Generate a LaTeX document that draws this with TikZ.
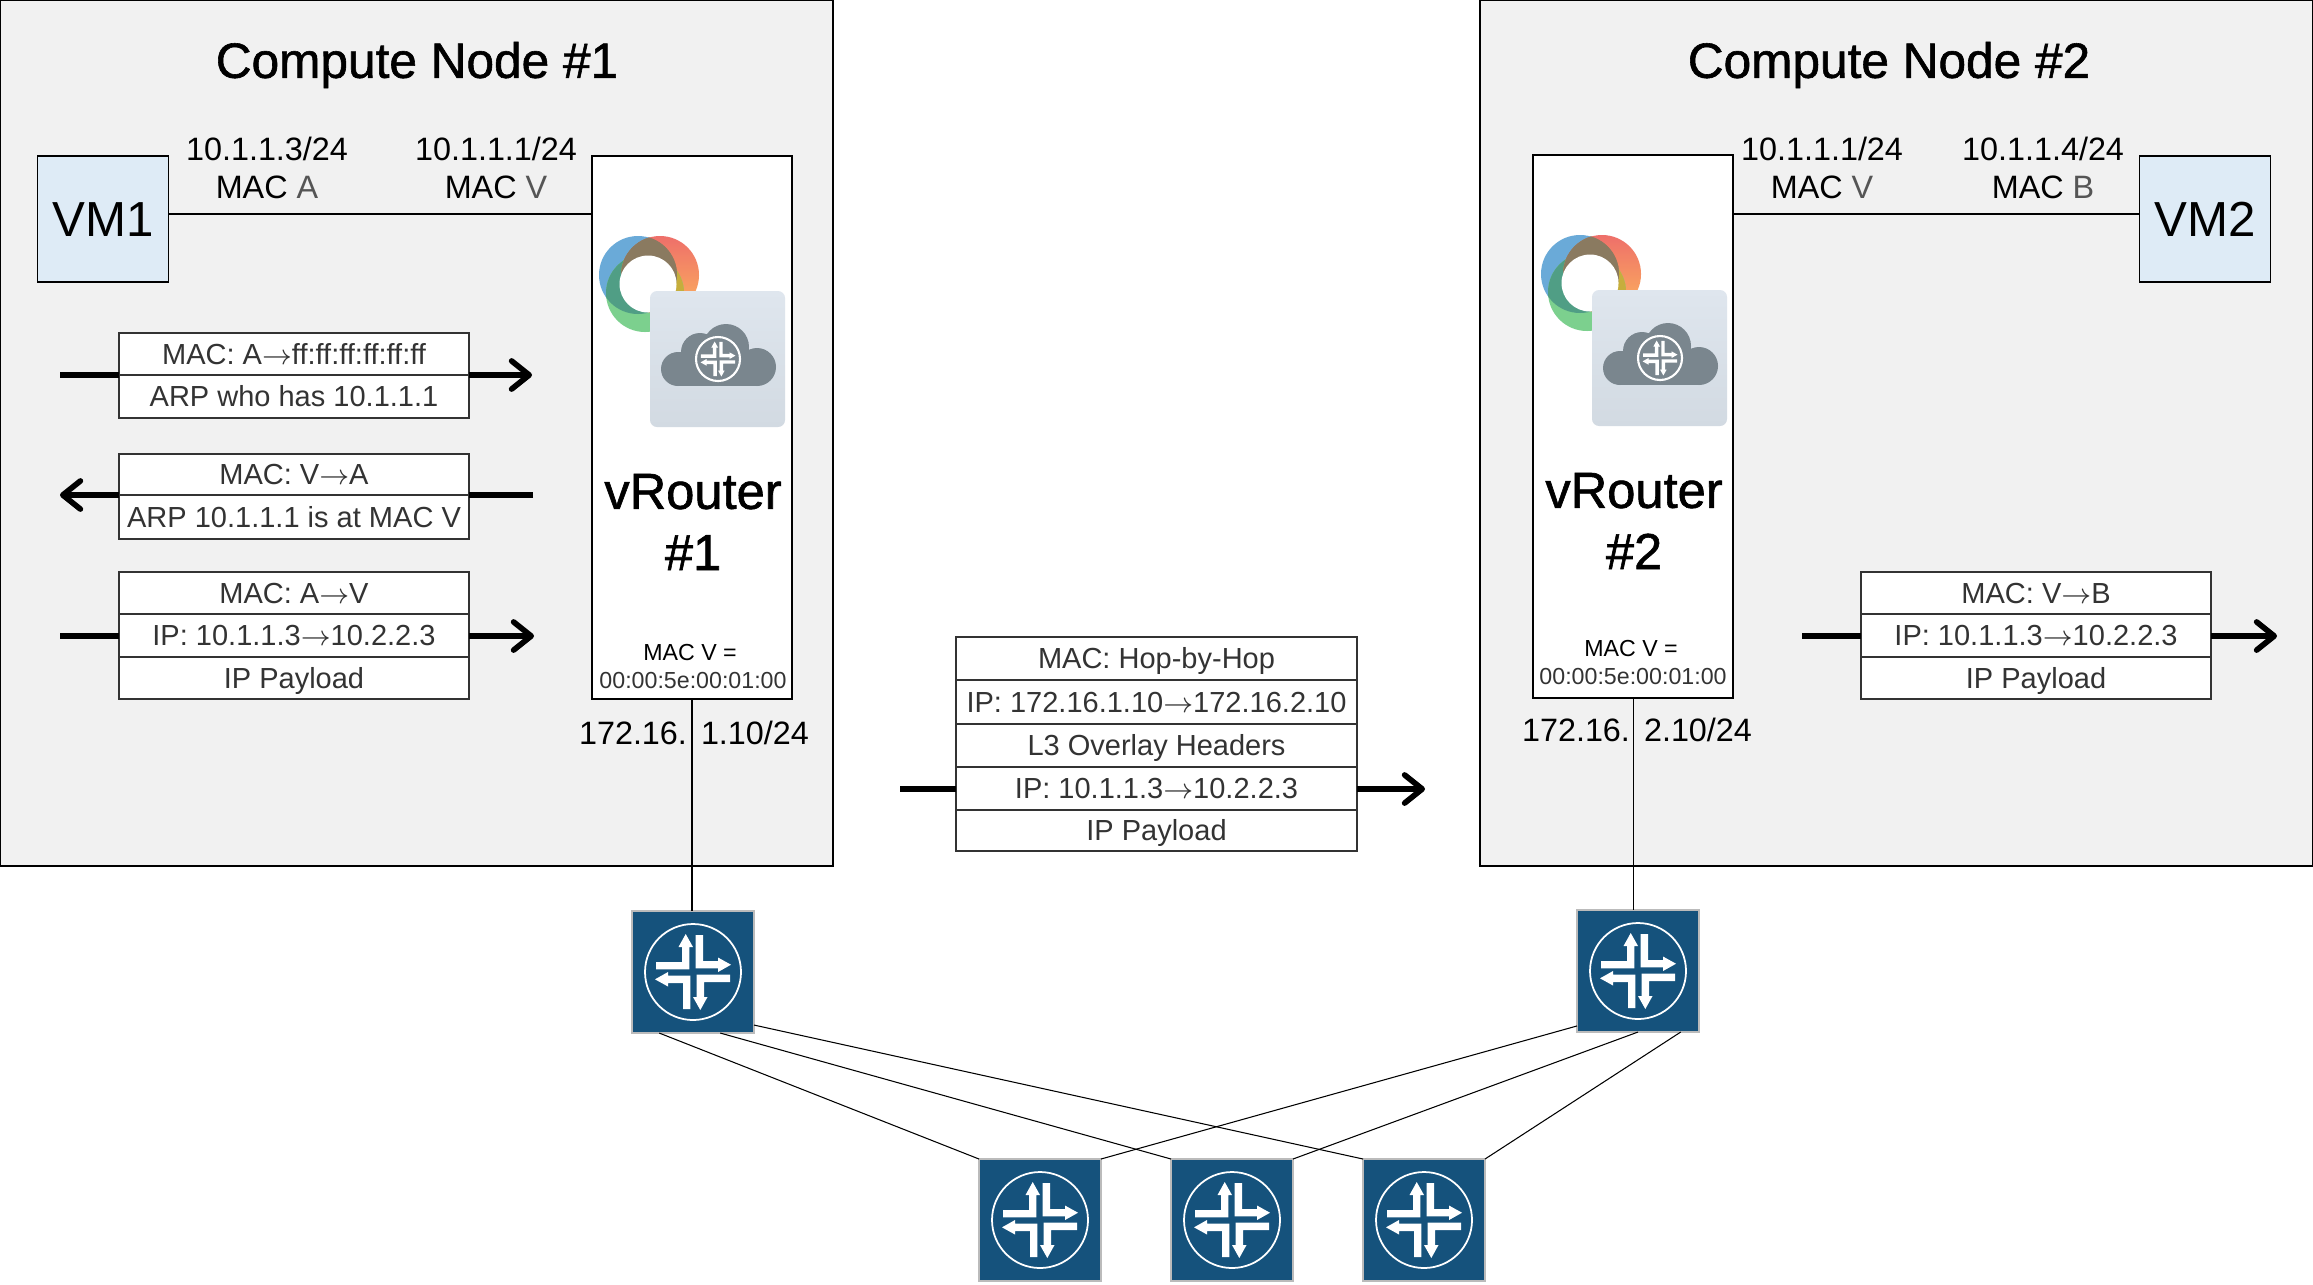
\documentclass[tikz,border=0pt]{standalone}
\usepackage{fontspec}
\setmainfont{Liberation Sans}
\usetikzlibrary{positioning,calc,arrows.meta}
\definecolor{panelgray}{HTML}{F1F1F1}
\definecolor{vmblue}{HTML}{DEEBF6}
\definecolor{routerblue}{HTML}{15527C}
\definecolor{routeredge}{HTML}{BBBBBB}
\definecolor{textgray}{HTML}{333333}
\definecolor{softgray}{HTML}{555555}
\definecolor{cloudgray}{HTML}{7A868E}
\definecolor{ringblue}{HTML}{6AAAD8}
\definecolor{ringred}{HTML}{EE6F6A}
\definecolor{ringorange}{HTML}{FDB45C}
\definecolor{ringgreen}{HTML}{7CD08E}
\definecolor{ringbr}{HTML}{8A7A60}
\definecolor{ringbg}{HTML}{509E85}
\definecolor{ringrg}{HTML}{C6AE3C}
\definecolor{tilelo}{HTML}{D2DAE2}
\definecolor{tilehi}{HTML}{DFE6EE}
\newcommand{\pxu}{*0.01cm}
\tikzset{
	x=0.01cm, y=-0.01cm,
	every node/.append style={outer sep=0pt},
	hostbox/.style={draw=black, line width=0.45pt, fill=panelgray, inner sep=0, minimum width=833\pxu, minimum height=866\pxu},
	vmbox/.style={draw=black, line width=0.45pt, fill=vmblue, inner sep=0, text height=10pt, text depth=0pt, minimum width=131\pxu, minimum height=126\pxu, font=\fontsize{14}{17}\selectfont},
	vrbox/.style={draw=black, line width=0.6pt, fill=white, inner sep=0, minimum width=200\pxu, minimum height=543\pxu},
	hdr/.style={draw=textgray, line width=0.5pt, fill=white, inner sep=0, text=textgray, text height=5.7pt, text depth=0pt, minimum width=350\pxu, font=\fontsize{8.25}{10}\selectfont},
	lbl/.style={inner sep=0, font=\fontsize{9.2}{11}\selectfont},
	big/.style={inner sep=0, align=center, font=\fontsize{14.4}{17.4}\selectfont\addfontfeature{FakeBold=1.2}},
	ttl/.style={inner sep=0, font=\fontsize{14.1}{17}\selectfont\addfontfeature{FakeBold=1.2}},
	tiny/.style={inner sep=0, font=\fontsize{6.6}{8}\selectfont},
	wire/.style={draw=black, line width=0.3pt},
	flow/.style={line width=1.6pt, draw=black},
	flowend/.style={flow, -{Straight Barb[length=5pt,width=8pt,round]}},
	router/.style={draw=routeredge, line width=0.8pt, fill=routerblue, inner sep=0, minimum size=122\pxu},
	crossmark/.pic={
		\foreach \a in {0,90,180,270}
			\fill[white, rotate=\a] (-37,-10) -- (-11,-10) -- (-11,-25) -- (-14.5,-25) -- (-7.3,-38) -- (0,-25) -- (-3.7,-25) -- (-3.7,-2.7) -- (-37,-2.7) -- cycle;
	},
	routerpic/.pic={
		\draw[white, line width=0.5pt] (0,0) circle (48);
		\pic {crossmark};
	},
	vrlogo/.pic={
		% three discs, their overlaps, then the hole
		\fill[ringblue] (46,119) circle (39);
		\shade[top color=ringred, bottom color=ringorange] (68,119) circle (39);
		\fill[ringgreen] (53,137) circle (39);
		\begin{scope}
			\clip (46,119) circle (39);
			\fill[ringbr] (68,119) circle (39);
			\fill[ringbg] (53,137) circle (39);
		\end{scope}
		\begin{scope}
			\clip (68,119) circle (39);
			\fill[ringrg] (53,137) circle (39);
			\clip (46,119) circle (39);
			\fill[ringbr] (68,119) circle (39);
		\end{scope}
		\fill[white] (56,128) circle (28.5);
		\shade[bottom color=tilelo, top color=tilehi, rounded corners=2pt] (58,135) rectangle (193,271);
		\fill[cloudgray] (86,213) circle (17) (165,211) circle (19) (108,196) circle (19) (134,191) circle (23);
		\fill[cloudgray] (86,196) rectangle (165,230);
		\draw[white, line width=0.6pt] (126,203) circle (22);
		\pic[scale=0.46] at (126,203) {crossmark};
	},
}
\begin{document}
\begin{tikzpicture}
	\useasboundingbox (0,0) rectangle (2313,1284);

	\node[hostbox, anchor=north west] (host1) at (0,0) {};
	\node[hostbox, anchor=north east] (host2) at (2313,0) {};
	\node[ttl] (title1) at (417,65) {Compute Node \#1};
	\node[ttl] (title2) at (1889,65) {Compute Node \#2};

	\node[vmbox] (vm1) at (103,219) {VM1};
	\node[vmbox] (vm2) at (2205,219) {VM2};
	\node[vrbox, anchor=north west] (vr1) at (592,156) {};
	\node[vrbox, anchor=north west] (vr2) at (1533,155) {};
	\pic at (vr1.north west) {vrlogo};
	\pic at ([xshift=0.01cm]vr2.north west) {vrlogo};
	\node[big] (vrname1) at (693,522) {vRouter\\\#1};
	\node[big] (vrname2) at (1634,521) {vRouter\\\#2};
	\node[tiny] (vrmac1) at (690,652) {MAC V =};
	\node[tiny, text=textgray] (vraddr1) at (693,680) {00:00:5e:00:01:00};
	\node[tiny] (vrmac2) at (1631,648) {MAC V =};
	\node[tiny, text=textgray] (vraddr2) at (1633,676) {00:00:5e:00:01:00};

	\node[lbl] (ipa) at (267,149) {10.1.1.3/24};
	\node[lbl] (maca) at (267,187) {MAC \textcolor{softgray}{A}};
	\node[lbl] (ipv1) at (496,149) {10.1.1.1/24};
	\node[lbl] (macv1) at (496,187) {MAC \textcolor{softgray}{V}};
	\node[lbl] (ipv2) at (1822,149) {10.1.1.1/24};
	\node[lbl] (macv2) at (1822,187) {MAC \textcolor{softgray}{V}};
	\node[lbl] (ipb) at (2043,149) {10.1.1.4/24};
	\node[lbl] (macb) at (2043,187) {MAC \textcolor{softgray}{B}};
	\node[lbl] (ipu1) at (694,733) {172.16.\hspace{4pt}1.10/24};
	\node[lbl] (ipu2) at (1637,730) {172.16.\hspace{4pt}2.10/24};

	\draw[wire] (vm1.east |- 0,214) -- (vr1.west |- 0,214);
	\draw[wire] (vr2.east |- 0,214) -- (vm2.west |- 0,214);

	% arp request
	\node[hdr, minimum height=42\pxu, anchor=north west] (req1) at (119,333) {MAC: A$\to$ff:ff:ff:ff:ff:ff};
	\node[hdr, minimum height=43\pxu, below=0pt of req1] (req2) {ARP who has 10.1.1.1};
	\coordinate (reqin) at (60,375);
	\coordinate (reqout) at (532,375);
	\draw[flow] (reqin) -- (reqin -| req1.west);
	\draw[flowend] (reqin -| req1.east) -- (reqout);

	% arp reply
	\node[hdr, minimum height=41\pxu, anchor=north west] (rep1) at (119,454) {MAC: V$\to$A};
	\node[hdr, minimum height=44\pxu, below=0pt of rep1] (rep2) {ARP 10.1.1.1 is at MAC V};
	\coordinate (repin) at (533,495);
	\coordinate (repout) at (60,495);
	\draw[flow] (repin) -- (repin -| rep1.east);
	\draw[flowend] (repin -| rep1.west) -- (repout);

	% ip packet to vrouter
	\node[hdr, minimum height=42\pxu, anchor=north west] (pkta1) at (119,572) {MAC: A$\to$V};
	\node[hdr, minimum height=43\pxu, below=0pt of pkta1] (pkta2) {IP: 10.1.1.3$\to$10.2.2.3};
	\node[hdr, minimum height=42\pxu, below=0pt of pkta2] (pkta3) {IP Payload};
	\coordinate (pktain) at (60,636);
	\coordinate (pktaout) at (534,636);
	\draw[flow] (pktain) -- (pktain -| pkta2.west);
	\draw[flowend] (pktaout -| pkta2.east) -- (pktaout);

	% overlay packet
	\node[hdr, minimum width=401\pxu, minimum height=43\pxu, anchor=north west] (ovl1) at (956,637) {MAC: Hop-by-Hop};
	\node[hdr, minimum width=401\pxu, minimum height=44\pxu, below=0pt of ovl1] (ovl2) {IP: 172.16.1.10$\to$172.16.2.10};
	\node[hdr, minimum width=401\pxu, minimum height=43\pxu, below=0pt of ovl2] (ovl3) {L3 Overlay Headers};
	\node[hdr, minimum width=401\pxu, minimum height=43\pxu, below=0pt of ovl3] (ovl4) {IP: 10.1.1.3$\to$10.2.2.3};
	\node[hdr, minimum width=401\pxu, minimum height=41\pxu, below=0pt of ovl4] (ovl5) {IP Payload};
	\coordinate (ovlin) at (900,789);
	\coordinate (ovlout) at (1425,789);
	\draw[flow] (ovlin) -- (ovlin -| ovl4.west);
	\draw[flowend] (ovlout -| ovl4.east) -- (ovlout);

	% ip packet to vm2
	\node[hdr, minimum height=42\pxu, anchor=north west] (pktb1) at (1861,572) {MAC: V$\to$B};
	\node[hdr, minimum height=43\pxu, below=0pt of pktb1] (pktb2) {IP: 10.1.1.3$\to$10.2.2.3};
	\node[hdr, minimum height=42\pxu, below=0pt of pktb2] (pktb3) {IP Payload};
	\coordinate (pktbin) at (1802,636);
	\coordinate (pktbout) at (2277,636);
	\draw[flow] (pktbin) -- (pktbin -| pktb2.west);
	\draw[flowend] (pktbout -| pktb2.east) -- (pktbout);

	% fabric
	\node[router] (leaf1) at (693,972) {};
	\node[router] (leaf2) at (1638,971) {};
	\node[router] (spine1) at (1040,1220) {};
	\node[router] (spine2) at (1232,1220) {};
	\node[router] (spine3) at (1424,1220) {};
	\foreach \r in {leaf1,leaf2,spine1,spine2,spine3}
		\pic at (\r) {routerpic};

	\draw[wire] (vr1.south) -- (vr1.south |- leaf1.north);
	\draw[wire] (vr2.south) -- (vr2.south |- leaf2.north);
	\draw[wire] (leaf1.241) -- (spine1.north west);
	\draw[wire] (leaf1.-66) -- (spine2.north west);
	\draw[wire] (leaf1.-41) -- (spine3.north west);
	\draw[wire] (leaf2.222) -- (spine1.north east);
	\draw[wire] (leaf2.south) -- (spine2.north east);
	\draw[wire] (leaf2.-55) -- (spine3.north east);
\end{tikzpicture}
\end{document}
